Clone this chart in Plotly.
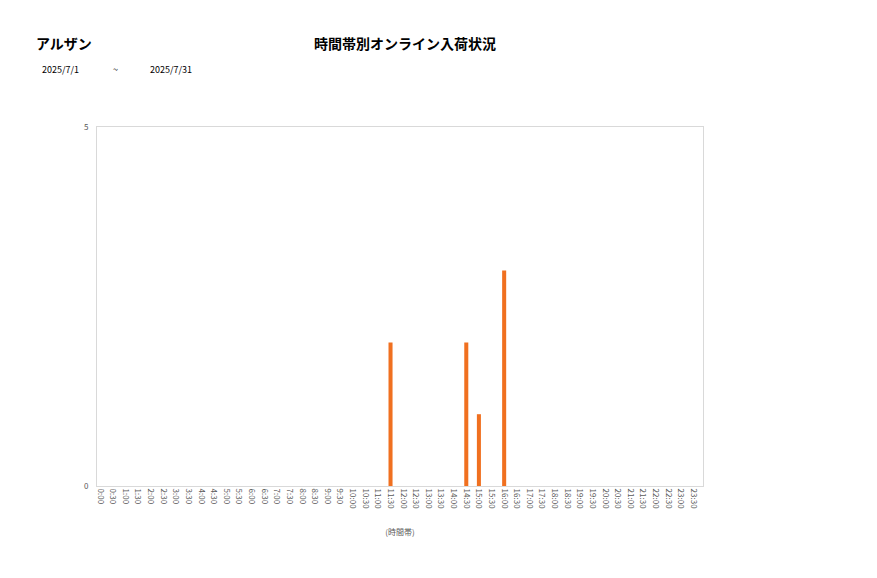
import plotly.graph_objects as go

# time slots 0:00 .. 23:30
slots = ["0:00", "0:30", "1:00", "1:30", "2:00", "2:30", "3:00", "3:30",
         "4:00", "4:30", "5:00", "5:30", "6:00", "6:30", "7:00", "7:30",
         "8:00", "8:30", "9:00", "9:30", "10:00", "10:30", "11:00", "11:30",
         "12:00", "12:30", "13:00", "13:30", "14:00", "14:30", "15:00", "15:30",
         "16:00", "16:30", "17:00", "17:30", "18:00", "18:30", "19:00", "19:30",
         "20:00", "20:30", "21:00", "21:30", "22:00", "22:30", "23:00", "23:30"]
counts = [0, 0, 0, 0, 0, 0, 0, 0,
          0, 0, 0, 0, 0, 0, 0, 0,
          0, 0, 0, 0, 0, 0, 0, 2,
          0, 0, 0, 0, 0, 2, 1, 0,
          3, 0, 0, 0, 0, 0, 0, 0,
          0, 0, 0, 0, 0, 0, 0, 0]

store = "アルザン"
title = "時間帯別オンライン入荷状況"
date_from = "2025/7/1"
date_to = "2025/7/31"

font = "Noto Sans CJK JP"

# plot area on screen: x 97..703, y 127..486 (page has 8px offset)
def px(x):
    return (x - 97) / 606

def py(y):
    return (486 - y) / 359

fig = go.Figure()
fig.add_trace(go.Bar(x=slots, y=counts, marker_color="#F07020",
                     marker_line_width=0))

fig.update_layout(
    width=877, height=578,
    margin=dict(l=89, r=182, t=119, b=100),
    paper_bgcolor="white", plot_bgcolor="white",
    font=dict(family=font, color="#595959"),
    bargap=0.68,
    showlegend=False,
)
fig.update_xaxes(
    type="category", range=[-0.25, 47.75],
    tickangle=90, tickfont=dict(size=8, color="#595959"),
    showline=True, linecolor="#d9d9d9", mirror=True, ticks="",
    showgrid=False,
    title=dict(text="(時間帯)", font=dict(size=8, color="#595959"), standoff=21),
)
fig.update_yaxes(
    range=[0, 5], tickvals=[0, 5], tickfont=dict(size=8, color="#595959"),
    showline=True, linecolor="#d9d9d9", mirror=True, showgrid=False,
    zeroline=False, ticks="", ticklabelstandoff=6,
)

fig.add_annotation(text="<b>" + store + "</b>", xref="paper", yref="paper",
                   x=px(34), y=py(43), xanchor="left", yanchor="middle", showarrow=False,
                   font=dict(size=14, color="black", family=font))
fig.add_annotation(text="<b>" + title + "</b>", xref="paper", yref="paper",
                   x=px(405), y=py(43), xanchor="center", yanchor="middle", showarrow=False,
                   font=dict(size=14, color="black", family=font))
fig.add_annotation(text=date_from, xref="paper", yref="paper",
                   x=px(40), y=py(70), xanchor="left", yanchor="middle",
                   showarrow=False, font=dict(size=9, color="black", family=font))
fig.add_annotation(text="~", xref="paper", yref="paper",
                   x=px(115), y=py(70), xanchor="center", yanchor="middle",
                   showarrow=False, font=dict(size=9, color="black", family=font))
fig.add_annotation(text=date_to, xref="paper", yref="paper",
                   x=px(148), y=py(70), xanchor="left", yanchor="middle",
                   showarrow=False, font=dict(size=9, color="black", family=font))

fig.write_html("out.html")
